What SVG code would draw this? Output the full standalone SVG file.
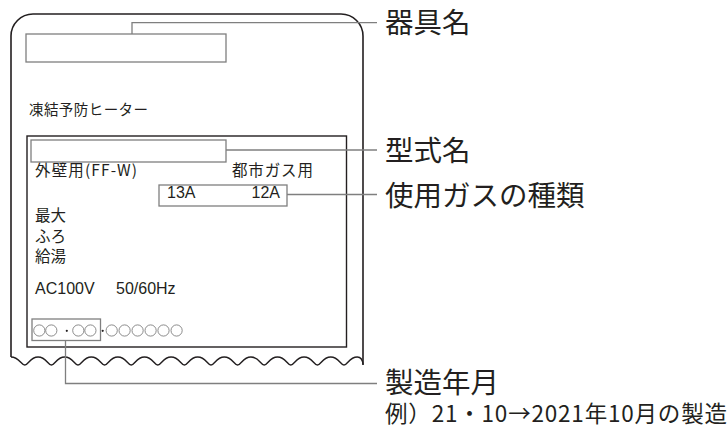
<svg xmlns="http://www.w3.org/2000/svg" width="728" height="427" viewBox="0 0 728 427">
<style>
.jp{font-family:"Noto Sans CJK JP","Noto Sans",sans-serif;fill:#231f20}
.lat{font-family:"Liberation Sans",Arial,sans-serif;fill:#231f20}
.lbl{font-size:28.5px}
.sm{font-size:15.5px}
.gbox{fill:none;stroke:#7f7f7f;stroke-width:1.3}
.lead{fill:none;stroke:#7f7f7f;stroke-width:1.3}
.dig{fill:none;stroke:#6f6f6f;stroke-width:0.8}
</style>
<rect width="728" height="427" fill="#fff"/>
<g id="plate">
<path d="M11,357 L11,36 A22,22 0 0 1 33,14 L341,14 A22,22 0 0 1 363,36 L363,365" fill="none" stroke="#231f20" stroke-width="1.6"/>
<path d="M11,357 C19.3,357 20.8,365 24.8,365 c4,0 5,-8 13.3,-8 s9.3,8 13.3,8 c4,0 5,-8 13.3,-8 s9.3,8 13.3,8 c4,0 5,-8 13.3,-8 s9.3,8 13.3,8 c4,0 5,-8 13.3,-8 s9.3,8 13.3,8 c4,0 5,-8 13.3,-8 s9.3,8 13.3,8 c4,0 5,-8 13.3,-8 s9.3,8 13.3,8 c4,0 5,-8 13.3,-8 s9.3,8 13.3,8 c4,0 5,-8 13.3,-8 s9.3,8 13.3,8 c4,0 5,-8 13.3,-8 s9.3,8 13.3,8 c4,0 5,-8 13.3,-8 s9.3,8 13.3,8 c4,0 5,-8 13.3,-8 s9.3,8 13.3,8 c4,0 5,-8 13.3,-8 s9.3,8 13.3,8 c4,0 5,-8 13.3,-8 C361,357 362.6,360 363,364.5" fill="none" stroke="#231f20" stroke-width="1.4"/>
<text class="jp" x="29" y="115" font-size="14.5" textLength="119" lengthAdjust="spacing">凍結予防ヒーター</text>
</g>
<g id="name-box"><rect class="gbox" x="26" y="34" width="200" height="28"/></g>
<g id="spec-panel">
<rect x="27" y="136" width="319.5" height="211" fill="none" stroke="#231f20" stroke-width="1.4"/>
<text class="jp sm" x="35" y="176" textLength="102" lengthAdjust="spacing">外壁用(FF-W)</text>
<text class="jp sm" x="232" y="176" textLength="81" lengthAdjust="spacing">都市ガス用</text>
<text class="jp sm" x="35" y="220.5">最大</text>
<text class="jp sm" x="35" y="241.5">ふろ</text>
<text class="jp sm" x="35" y="261.5">給湯</text>
<text class="lat" x="35" y="294" font-size="16">AC100V</text>
<text class="lat" x="116" y="294" font-size="16">50/60Hz</text>
</g>
<g id="model-box"><rect class="gbox" x="31" y="140" width="195" height="22"/></g>
<g id="gas-box">
<rect class="gbox" x="159" y="185" width="128" height="21"/>
<text class="lat" x="167" y="197.5" font-size="16">13A</text>
<text class="lat" x="280" y="197.5" font-size="16" text-anchor="end">12A</text>
</g>
<g id="date-box">
<rect class="gbox" x="32" y="319" width="68.5" height="21.5"/>
<g class="dig">
<circle cx="39.3" cy="330.5" r="5.6"/><circle cx="51.3" cy="330.5" r="5.6"/>
<circle cx="78.3" cy="330.5" r="5.6"/><circle cx="90.4" cy="330.5" r="5.6"/>
<circle cx="111.7" cy="330.5" r="5.6"/><circle cx="124.6" cy="330.5" r="5.6"/>
<circle cx="137.6" cy="330.5" r="5.6"/><circle cx="150.6" cy="330.5" r="5.6"/>
<circle cx="163.5" cy="330.5" r="5.6"/><circle cx="176.6" cy="330.5" r="5.6"/>
</g>
<circle cx="66.8" cy="330.8" r="1.1" fill="#231f20"/>
<circle cx="102.7" cy="330.8" r="1.1" fill="#231f20"/>
</g>
<g id="connectors">
<polyline class="lead" points="132,34 132,22.7 377,22.7"/>
<polyline class="lead" points="226,150 377,150"/>
<polyline class="lead" points="287,194.5 377,194.5"/>
<polyline class="lead" points="65.5,340.5 65.5,383.5 377,383.5"/>
</g>
<g id="labels">
<text class="jp lbl" x="385" y="393">製造年月</text>
<text class="jp lbl" x="385" y="33">器具名</text>
<text class="jp lbl" x="385" y="161">型式名</text>
<text class="jp lbl" x="385" y="206">使用ガスの種類</text>
<text class="jp" x="385" y="422" font-size="22.5" textLength="342" lengthAdjust="spacing">例）21・10→2021年10月の製造</text>
</g>
</svg>
